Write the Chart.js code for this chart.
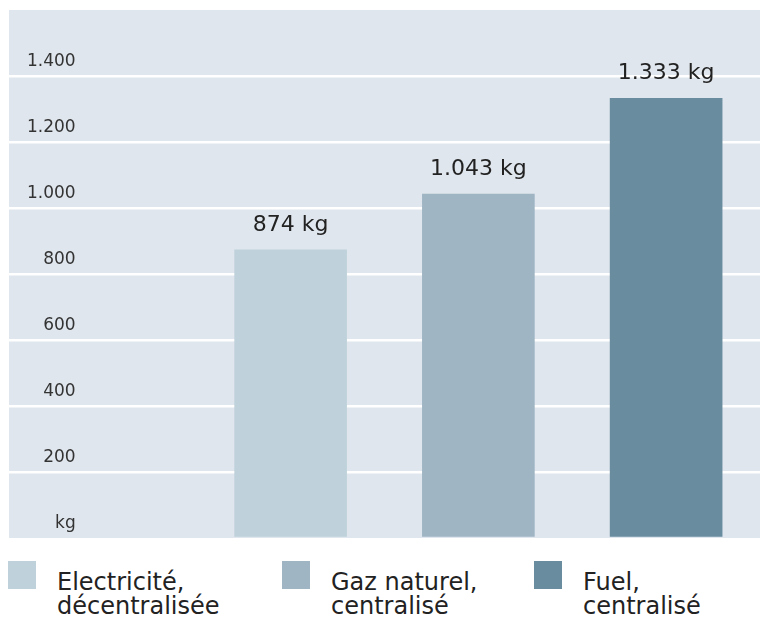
<!DOCTYPE html>
<html>
<head>
<meta charset="utf-8">
<script src="https://cdn.jsdelivr.net/npm/chart.js@4"></script>
<style>
  body { margin: 0; background: #fff; }
  #wrap { position: relative; width: 760px; height: 617px; overflow: hidden; }
  #legend { position: absolute; top: 561px; left: 8px; display: flex;
            font-family: "DejaVu Sans", sans-serif; font-size: 24px; color: #222; }
  .item { display: flex; align-items: flex-start; }
  .item:nth-child(1) { width: 274px; }
  .item:nth-child(2) { width: 252px; }
  .swatch { width: 28px; height: 28px; margin-right: 21px; flex: none; }
  .text { line-height: 23.5px; margin-top: 10px; }
</style>
</head>
<body>
<div id="wrap">
  <canvas id="myChart" width="760" height="545"></canvas>
  <div id="legend"></div>
</div>
<script>
// données
const categories = [
  ["Electricité,", "décentralisée"],
  ["Gaz naturel,", "centralisé"],
  ["Fuel,", "centralisé"],
];
const values = [874, 1043, 1333];
const colors = ["#bfd2db", "#9fb5c4", "#698c9f"];
const unit = "kg";
const yMax = 1600;
const yStep = 200;

// 1.400 style
function fmt(n) {
  return String(n).replace(/\B(?=(\d{3})+(?!\d))/g, ".");
}

const bgPlugin = {
  id: "bg",
  beforeDraw(chart) {
    const { ctx, chartArea: a } = chart;
    ctx.save();
    ctx.fillStyle = "#dfe6ed";
    ctx.fillRect(a.left, a.top, a.right - a.left, a.bottom - a.top);
    ctx.restore();
  },
};

const valueLabels = {
  id: "valueLabels",
  afterDatasetsDraw(chart) {
    const { ctx } = chart;
    const meta = chart.getDatasetMeta(0);
    ctx.save();
    ctx.font = "22px 'DejaVu Sans'";
    ctx.fillStyle = "#222";
    ctx.textAlign = "center";
    ctx.textBaseline = "alphabetic";
    meta.data.forEach((bar, i) => {
      const v = chart.data.datasets[0].data[i];
      if (v == null) return;
      ctx.fillText(fmt(v) + " " + unit, bar.x, bar.y - 19);
    });
    ctx.restore();
  },
};

const ctx = document.getElementById("myChart").getContext("2d");

// first slot left empty for the axis labels
const myChart = new Chart(ctx, {
  type: "bar",
  data: {
    labels: [""].concat(categories.map((c) => c.join(" "))),
    datasets: [
      {
        data: [null].concat(values),
        backgroundColor: ["transparent"].concat(colors),
        borderWidth: 0,
        barPercentage: 0.6,
        categoryPercentage: 1,
      },
    ],
  },
  options: {
    responsive: false,
    animation: false,
    layout: { padding: { left: 9, top: 10, right: 0, bottom: 7 } },
    scales: {
      x: { display: false },
      y: {
        min: 0,
        max: yMax,
        afterFit(scale) {
          scale.width = 0;
          scale.paddingTop = 0;
          scale.paddingBottom = 0;
        },
        border: { display: false },
        grid: {
          drawTicks: false,
          lineWidth: 2.5,
          color: (c) =>
            c.tick && (c.tick.value === 0 || c.tick.value === yMax)
              ? "rgba(0,0,0,0)"
              : "#ffffff",
        },
        ticks: {
          stepSize: yStep,
          mirror: true,
          crossAlign: "far",
          padding: 18,
          labelOffset: -14,
          color: "#333",
          font: { family: "DejaVu Sans", size: 17 },
          callback: (v) => (v === 0 ? unit : v === yMax ? "" : fmt(v)),
        },
      },
    },
    plugins: {
      legend: { display: false },
      tooltip: { enabled: false },
    },
  },
  plugins: [bgPlugin, valueLabels],
});

// légende
const legend = document.getElementById("legend");
categories.forEach((lines, i) => {
  const item = document.createElement("div");
  item.className = "item";
  const sw = document.createElement("div");
  sw.className = "swatch";
  sw.style.background = colors[i];
  const t = document.createElement("div");
  t.className = "text";
  t.innerHTML = lines.join("<br>");
  item.appendChild(sw);
  item.appendChild(t);
  legend.appendChild(item);
});
</script>
</body>
</html>
